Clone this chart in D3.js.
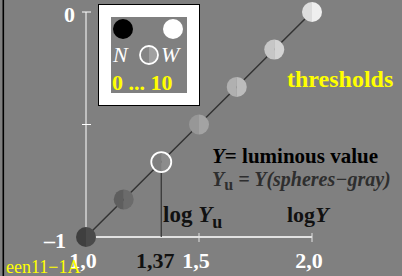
<!DOCTYPE html>
<html>
<head>
<meta charset="utf-8">
<script src="https://cdn.jsdelivr.net/npm/d3@7"></script>
<style>
  html, body { margin: 0; padding: 0; background: #808080; }
  svg { display: block; font-family: "Liberation Serif", "Times New Roman", "DejaVu Serif", serif; }
</style>
</head>
<body>
<svg id="chart" width="402" height="276"></svg>
<script>
// spheres along the threshold line
var sphereLogY = [1.0, 1.167, 1.333, 1.5, 1.667, 1.833, 2.0];
var sphereLogRel = [-1, -0.833, -0.667, -0.5, -0.333, -0.167, 0];
var sphereLeft = ['#3f3f3f', '#5e5e5e', '#7e7e7e', '#979797', '#b0b0b0', '#c6c6c6', '#dddddd'];
var sphereRight = ['#4a4a4a', '#6b6b6b', '#8c8c8c', '#a3a3a3', '#bcbcbc', '#d3d3d3', '#efefef'];
var openIndex = 2; // the one at log Yu

var xTicks = [1.0, 1.333, 1.5, 2.0];
var xTickLabels = ['1,0', '1,37', '1,5', '2,0'];
var xTickColors = ['#fff', '#111', '#fff', '#fff'];
var yTicks = [-1, -0.5, 0];
var yTickLabels = ['\u20131', '', '0'];

var svg = d3.select('#chart');

var x = d3.scaleLinear().domain([1, 2]).range([86, 312]);
var y = d3.scaleLinear().domain([-1, 0]).range([237, 12]);

svg.append('rect').attr('width', 402).attr('height', 276).attr('fill', '#808080');
svg.append('rect').attr('x', 2.5).attr('y', 0).attr('width', 1.6).attr('height', 276).attr('fill', '#000');

// y axis
svg.append('line')
  .attr('x1', x(1)).attr('x2', x(1))
  .attr('y1', y(0)).attr('y2', y(-1))
  .attr('stroke', '#fff').attr('stroke-width', 1);
svg.selectAll('.ytick').data(yTicks).enter().append('line')
  .attr('x1', x(1) - 4).attr('x2', x(1) + 5)
  .attr('y1', function(d){ return y(d); }).attr('y2', function(d){ return y(d); })
  .attr('stroke', '#fff').attr('stroke-width', 1);
svg.selectAll('.ylab').data(yTicks).enter().append('text')
  .attr('x', function(d){ return d === 0 ? 75 : 66; })
  .attr('y', function(d){ return d === 0 ? y(d) + 10 : y(d) + 11; })
  .attr('text-anchor', 'end')
  .attr('font-size', 22).attr('font-weight', 'bold').attr('fill', '#fff')
  .text(function(d, i){ return yTickLabels[i]; });

// x axis
svg.append('line')
  .attr('x1', x(1)).attr('x2', x(2))
  .attr('y1', y(-1)).attr('y2', y(-1))
  .attr('stroke', '#e2e2e2').attr('stroke-width', 2);
svg.selectAll('.xtick').data([1.5, 2.0]).enter().append('line')
  .attr('x1', function(d){ return x(d); }).attr('x2', function(d){ return x(d); })
  .attr('y1', y(-1) - 4).attr('y2', y(-1) + 5)
  .attr('stroke', '#e2e2e2').attr('stroke-width', 1);

// marker for log Yu
svg.append('line')
  .attr('x1', x(sphereLogY[openIndex])).attr('x2', x(sphereLogY[openIndex]))
  .attr('y1', y(sphereLogRel[openIndex]) + 10).attr('y2', y(-1))
  .attr('stroke', '#333').attr('stroke-width', 1.2);

// threshold line
svg.append('path')
  .attr('d', d3.line().x(function(d){ return x(d); }).y(function(d, i){ return y(sphereLogRel[i]); })(sphereLogY))
  .attr('fill', 'none').attr('stroke', '#333').attr('stroke-width', 1.5);

// half-split spheres
var r = 10;
var arcL = d3.arc().innerRadius(0).outerRadius(r).startAngle(Math.PI).endAngle(2 * Math.PI);
var arcR = d3.arc().innerRadius(0).outerRadius(r).startAngle(0).endAngle(Math.PI);
var g = svg.selectAll('.sphere').data(sphereLogY).enter().append('g')
  .attr('transform', function(d, i){ return 'translate(' + x(d) + ',' + y(sphereLogRel[i]) + ')'; });
g.append('path').attr('d', arcL).attr('fill', function(d, i){ return sphereLeft[i]; });
g.append('path').attr('d', arcR).attr('fill', function(d, i){ return sphereRight[i]; });
g.filter(function(d, i){ return i === openIndex; }).append('circle')
  .attr('r', r).attr('fill', 'none').attr('stroke', '#fff').attr('stroke-width', 1.8);

// x tick labels
svg.selectAll('.xlab').data(xTicks).enter().append('text')
  .attr('x', function(d, i){ return i === 0 ? x(d) - 3 : (i === 1 ? x(d) - 6 : x(d) - 3); })
  .attr('y', 268)
  .attr('text-anchor', 'middle')
  .attr('font-size', 22).attr('font-weight', 'bold')
  .attr('fill', function(d, i){ return xTickColors[i]; })
  .text(function(d, i){ return xTickLabels[i]; });

// legend box
svg.append('rect').attr('x', 98.5).attr('y', 4.5).attr('width', 101).attr('height', 101)
  .attr('fill', '#fff').attr('stroke', '#000').attr('stroke-width', 1);
svg.append('rect').attr('x', 111).attr('y', 17).attr('width', 76).attr('height', 76).attr('fill', '#808080');
svg.append('circle').attr('cx', 123).attr('cy', 29).attr('r', 10).attr('fill', '#000');
svg.append('circle').attr('cx', 173).attr('cy', 29).attr('r', 10).attr('fill', '#fff');
var lg = svg.append('g').attr('transform', 'translate(149,55)');
lg.append('path').attr('d', d3.arc().innerRadius(0).outerRadius(9).startAngle(Math.PI).endAngle(2 * Math.PI)).attr('fill', '#858585');
lg.append('path').attr('d', d3.arc().innerRadius(0).outerRadius(9).startAngle(0).endAngle(Math.PI)).attr('fill', '#a0a0a0');
lg.append('circle').attr('r', 9).attr('fill', 'none').attr('stroke', '#fff').attr('stroke-width', 1.8);
svg.append('text').attr('x', 113).attr('y', 62).attr('font-size', 22).attr('font-style', 'italic')
  .attr('fill', '#fff').text('N');
svg.append('text').attr('x', 161).attr('y', 62).attr('font-size', 22).attr('font-style', 'italic')
  .attr('fill', '#fff').text('W');
svg.append('text').attr('x', 112).attr('y', 90).attr('font-size', 22).attr('font-weight', 'bold')
  .attr('fill', '#ff0').text('0 ... 10');

// annotations
svg.append('text').attr('x', 287).attr('y', 87).attr('font-size', 24).attr('font-weight', 'bold')
  .attr('fill', '#ff0').text('thresholds');

var t1 = svg.append('text').attr('x', 212).attr('y', 163).attr('font-size', 21).attr('font-weight', 'bold').attr('fill', '#000');
t1.append('tspan').attr('font-style', 'italic').text('Y');
t1.append('tspan').text('= luminous value');

var t2 = svg.append('text').attr('x', 212).attr('y', 186).attr('font-size', 20).attr('font-weight', 'bold')
  .attr('font-style', 'italic').attr('fill', '#2e2e2e');
t2.append('tspan').text('Y');
t2.append('tspan').attr('font-style', 'normal').attr('font-size', 16).attr('dy', 4).text('u');
t2.append('tspan').attr('dy', -4).text(' = Y(spheres\u2212gray)');

var t3 = svg.append('text').attr('x', 163).attr('y', 222).attr('font-size', 23).attr('font-weight', 'bold').attr('fill', '#111');
t3.append('tspan').text('log\u00a0');
t3.append('tspan').attr('font-style', 'italic').text('Y');
t3.append('tspan').attr('font-size', 18).attr('dy', 6).text('u');

var t4 = svg.append('text').attr('x', 287).attr('y', 222).attr('font-size', 22).attr('font-weight', 'bold').attr('fill', '#111');
t4.append('tspan').text('log');
t4.append('tspan').attr('font-style', 'italic').text('Y');

svg.append('text').attr('x', 6).attr('y', 273).attr('font-size', 18).attr('fill', '#ff0').text('een11\u22121A');
</script>
</body>
</html>
